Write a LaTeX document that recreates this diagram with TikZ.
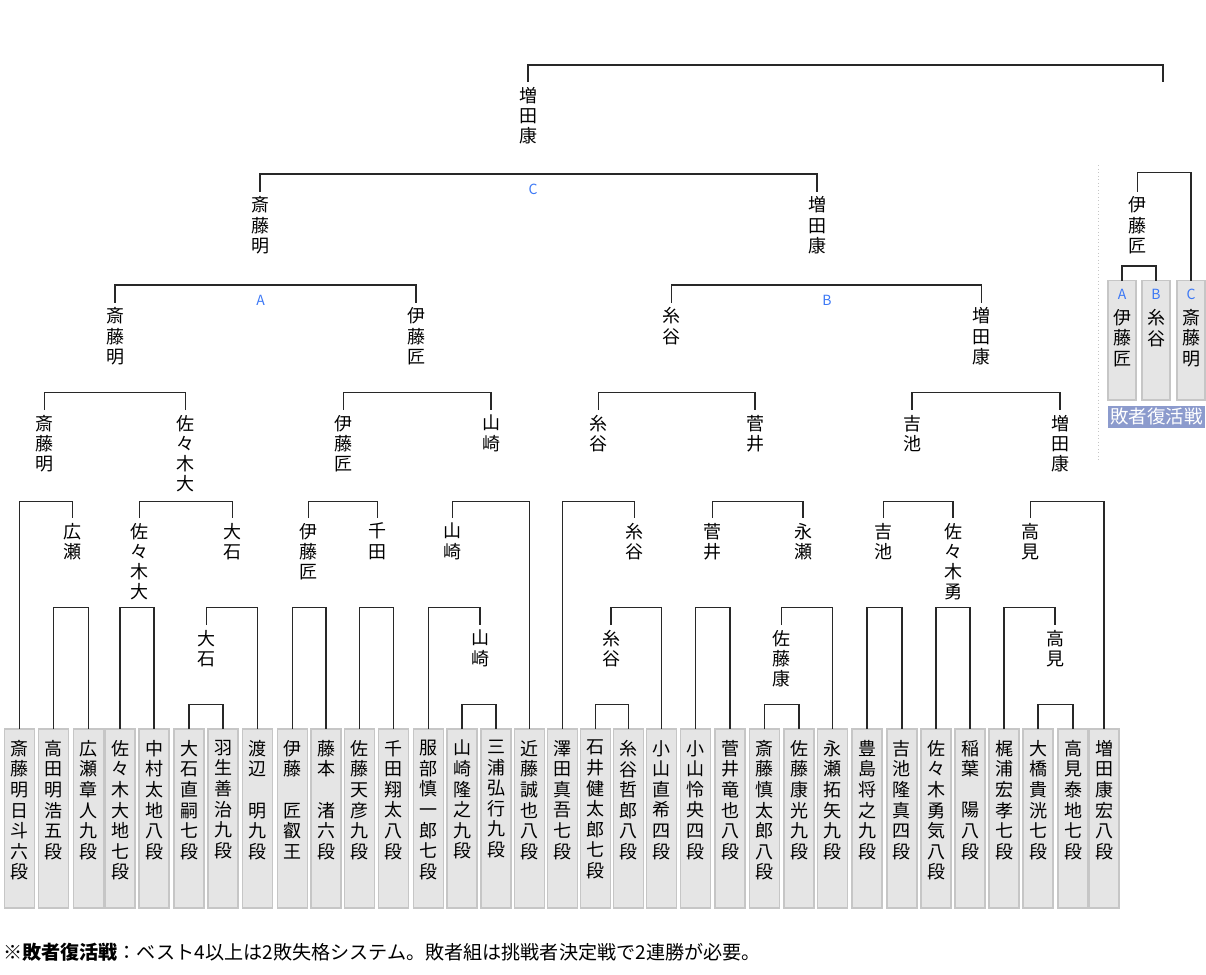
\documentclass[tikz,border=0pt]{standalone}
\usepackage{fontspec}
\newfontfamily\jp{Noto Sans CJK JP}
\definecolor{abc}{RGB}{60,120,245}
\definecolor{rep}{RGB}{140,155,205}
\definecolor{lncol}{RGB}{40,40,40}
\newcommand\mtch[3]{\draw[ln] (#1.north) -- (#1.north |- #3) -- (#2.north |- #3) -- (#2.north);}
\begin{document}
\begin{tikzpicture}[x=1pt,y=-1pt,
  ln/.style={line width=1.5pt, draw=lncol, line join=miter},
  lbl/.style={font=\jp\fontsize{18}{20.3}\selectfont, align=center, anchor=north, inner xsep=0pt, inner ysep=5pt, outer sep=0pt},
  pbox/.style={draw=gray!45, fill=gray!20, line width=1.2pt, minimum width=30pt, minimum height=179pt, anchor=north, inner sep=0pt, outer sep=0pt},
  btxt/.style={font=\jp\fontsize{18}{20.6}\selectfont, align=center, anchor=north, inner xsep=0pt, inner ysep=0pt},
  abcl/.style={font=\jp\fontsize{14}{14}\selectfont, text=abc, inner sep=0pt}]
\useasboundingbox (0,0) rectangle (1206,974);
% bar levels
\coordinate (b0) at (0,65);
\coordinate (b1) at (0,174);
\coordinate (b2) at (0,285);
\coordinate (b3) at (0,392.7);
\coordinate (b4) at (0,501.7);
\coordinate (b5) at (0,607.3);
\coordinate (b6) at (0,704.5);
\coordinate (rb1) at (0,172.7);
\coordinate (rb2) at (0,266);
% player boxes
\foreach \n/\x/\t in {
 1/19.5/{斎\\藤\\明\\日\\斗\\六\\段},
 2/53.3/{高\\田\\明\\浩\\五\\段},
 3/88.3/{広\\瀬\\章\\人\\九\\段},
 4/120/{佐\\々\\木\\大\\地\\七\\段},
 5/154/{中\\村\\太\\地\\八\\段},
 6/189/{大\\石\\直\\嗣\\七\\段},
 7/223/{羽\\生\\善\\治\\九\\段},
 8/257.7/{渡\\辺\\　\\明\\九\\段},
 9/292.3/{伊\\藤\\　\\匠\\叡\\王},
 10/326/{藤\\本\\　\\渚\\六\\段},
 11/359.3/{佐\\藤\\天\\彦\\九\\段},
 12/393.5/{千\\田\\翔\\太\\八\\段},
 13/428.3/{服\\部\\慎\\一\\郎\\七\\段},
 14/462/{山\\崎\\隆\\之\\九\\段},
 15/496/{三\\浦\\弘\\行\\九\\段},
 16/529.3/{近\\藤\\誠\\也\\八\\段},
 17/562.3/{澤\\田\\真\\吾\\七\\段},
 18/595.5/{石\\井\\健\\太\\郎\\七\\段},
 19/628.5/{糸\\谷\\哲\\郎\\八\\段},
 20/661.5/{小\\山\\直\\希\\四\\段},
 21/695.7/{小\\山\\怜\\央\\四\\段},
 22/730/{菅\\井\\竜\\也\\八\\段},
 23/764.5/{斎\\藤\\慎\\太\\郎\\八\\段},
 24/799/{佐\\藤\\康\\光\\九\\段},
 25/832.6/{永\\瀬\\拓\\矢\\九\\段},
 26/867/{豊\\島\\将\\之\\九\\段},
 27/901.9/{吉\\池\\隆\\真\\四\\段},
 28/936/{佐\\々\\木\\勇\\気\\八\\段},
 29/970/{稲\\葉\\　\\陽\\八\\段},
 30/1004/{梶\\浦\\宏\\孝\\七\\段},
 31/1038/{大\\橋\\貴\\洸\\七\\段},
 32/1073/{高\\見\\泰\\地\\七\\段},
 33/1104/{増\\田\\康\\宏\\八\\段}} {
  \node[pbox] (p\n) at (\x,729) {};
  \node[btxt] (pt\n) at (\x,740) {\t};
}
% winner labels
\node[lbl] (n0) at (528,82) {増\\田\\康};
\node[inner sep=0pt, outer sep=0pt, minimum size=0pt] (fin) at (1163,82) {};
\node[lbl] (n1L) at (260,191.7) {斎\\藤\\明};
\node[lbl] (n1R) at (817,191.7) {増\\田\\康};
\node[lbl] (n2a) at (115,302.7) {斎\\藤\\明};
\node[lbl] (n2b) at (416,302.7) {伊\\藤\\匠};
\node[lbl] (n2c) at (671.7,302.7) {糸\\谷};
\node[lbl] (n2d) at (981.7,302.7) {増\\田\\康};
\node[lbl] (n3a) at (44.3,410) {斎\\藤\\明};
\node[lbl] (n3b) at (185.7,410) {佐\\々\\木\\大};
\node[lbl] (n3c) at (343.3,410) {伊\\藤\\匠};
\node[lbl] (n3d) at (491,410) {山\\崎};
\node[lbl] (n3e) at (598.3,410) {糸\\谷};
\node[lbl] (n3f) at (755,410) {菅\\井};
\node[lbl] (n3g) at (912,410) {吉\\池};
\node[lbl] (n3h) at (1060,410) {増\\田\\康};
\node[lbl] (n4a) at (72.7,518) {広\\瀬};
\node[lbl] (n4b) at (139.3,518) {佐\\々\\木\\大};
\node[lbl] (n4c) at (232.3,518) {大\\石};
\node[lbl] (n4d) at (308.3,518) {伊\\藤\\匠};
\node[lbl] (n4e) at (377.7,518) {千\\田};
\node[lbl] (n4f) at (452.3,518) {山\\崎};
\node[lbl] (n4g) at (634.3,518) {糸\\谷};
\node[lbl] (n4h) at (712.3,518) {菅\\井};
\node[lbl] (n4i) at (803,518) {永\\瀬};
\node[lbl] (n4j) at (883.7,518) {吉\\池};
\node[lbl] (n4k) at (953,518) {佐\\々\\木\\勇};
\node[lbl] (n4l) at (1030.7,518) {高\\見};
\node[lbl] (n5a) at (206.7,625) {大\\石};
\node[lbl] (n5b) at (480,625) {山\\崎};
\node[lbl] (n5c) at (611,625) {糸\\谷};
\node[lbl] (n5d) at (781.5,625) {佐\\藤\\康};
\node[lbl] (n5e) at (1055,625) {高\\見};
% match letters
\node[abcl] (lc) at (533,189) {C};
\node[abcl] (la) at (260.7,300) {A};
\node[abcl] (lb) at (827,300) {B};
% connectors
\mtch{n0}{fin}{b0}
\mtch{n1L}{n1R}{b1}
\mtch{n2a}{n2b}{b2}
\mtch{n2c}{n2d}{b2}
\mtch{n3a}{n3b}{b3}
\mtch{n3c}{n3d}{b3}
\mtch{n3e}{n3f}{b3}
\mtch{n3g}{n3h}{b3}
\mtch{p1}{n4a}{b4}
\mtch{n4b}{n4c}{b4}
\mtch{n4d}{n4e}{b4}
\mtch{n4f}{p16}{b4}
\mtch{p17}{n4g}{b4}
\mtch{n4h}{n4i}{b4}
\mtch{n4j}{n4k}{b4}
\mtch{n4l}{p33}{b4}
\mtch{p2}{p3}{b5}
\mtch{p4}{p5}{b5}
\mtch{n5a}{p8}{b5}
\mtch{p9}{p10}{b5}
\mtch{p11}{p12}{b5}
\mtch{p13}{n5b}{b5}
\mtch{n5c}{p20}{b5}
\mtch{p21}{p22}{b5}
\mtch{n5d}{p25}{b5}
\mtch{p26}{p27}{b5}
\mtch{p28}{p29}{b5}
\mtch{p30}{n5e}{b5}
\mtch{p6}{p7}{b6}
\mtch{p14}{p15}{b6}
\mtch{p18}{p19}{b6}
\mtch{p23}{p24}{b6}
\mtch{p31}{p32}{b6}
% repechage
\draw[gray!45, line width=1pt, dash pattern=on 1pt off 2.5pt] (1098,165) -- (1098,460);
\node[pbox, minimum width=28pt, minimum height=119.3pt] (rA) at (1122,280.7) {};
\node[pbox, minimum width=28pt, minimum height=119.3pt] (rB) at (1156,280.7) {};
\node[pbox, minimum width=28pt, minimum height=119.3pt] (rC) at (1191,280.7) {};
\node[abcl] (rAl) at (1122,294.5) {A};
\node[abcl] (rBl) at (1156,294.5) {B};
\node[abcl] (rCl) at (1191,294.5) {C};
\node[btxt] (rAt) at (1122,309) {伊\\藤\\匠};
\node[btxt] (rBt) at (1156,309) {糸\\谷};
\node[btxt] (rCt) at (1191,309) {斎\\藤\\明};
\node[lbl] (rn) at (1137.7,191.7) {伊\\藤\\匠};
\mtch{rA}{rB}{rb2}
\mtch{rn}{rC}{rb1}
\node[fill=rep, text=white, minimum width=97pt, minimum height=22pt, inner sep=0pt, font=\jp\fontsize{18.5}{18.5}\selectfont] (rl) at (1156.5,416.5) {敗者復活戦};
% footnote
\node[anchor=west, inner sep=0pt, font=\jp\fontsize{19.1}{20}\selectfont] (fn) at (3,952) {{\bfseries ※敗者復活戦}：ベスト4以上は2敗失格システム。敗者組は挑戦者決定戦で2連勝が必要。};
\end{tikzpicture}
\end{document}
